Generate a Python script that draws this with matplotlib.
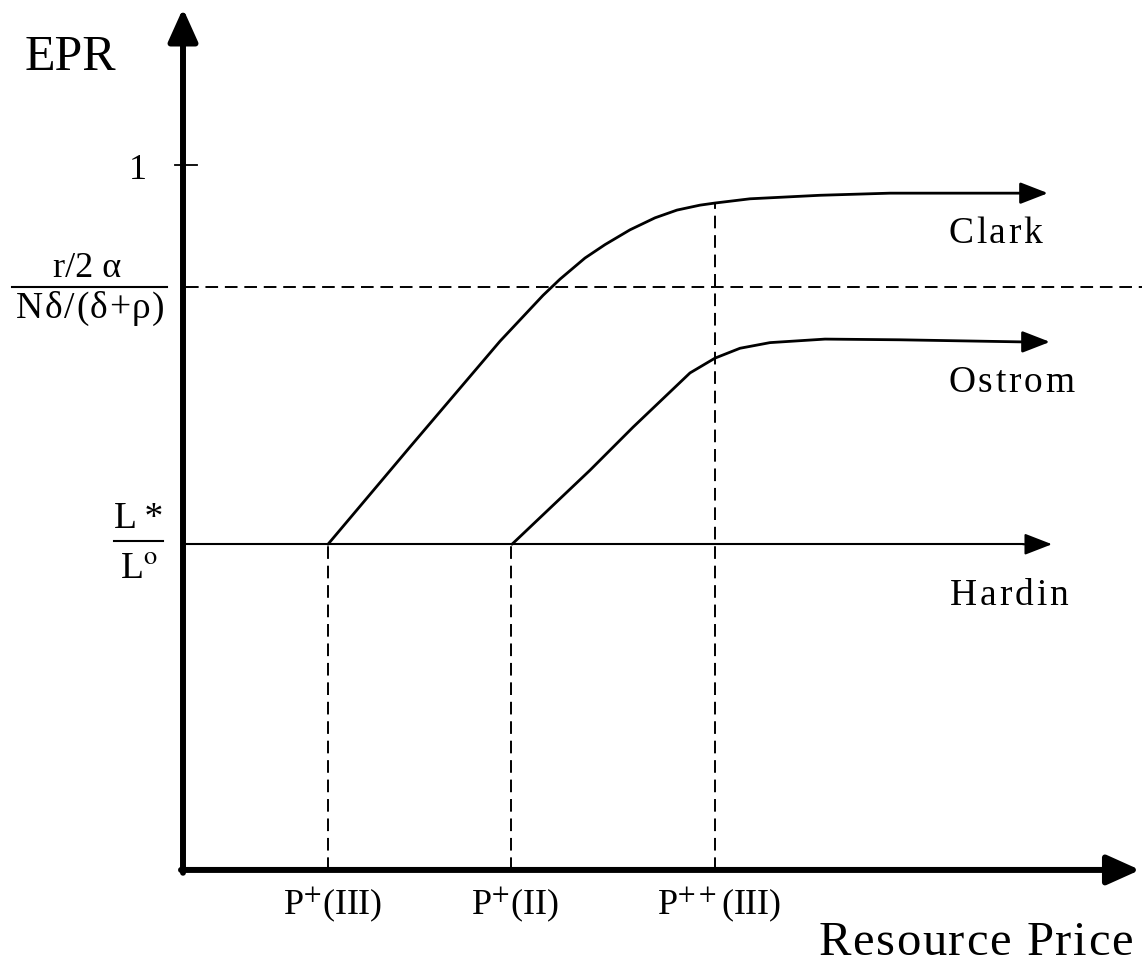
import matplotlib
matplotlib.use("Agg")
import matplotlib.pyplot as plt
from matplotlib.textpath import TextToPath
from matplotlib.font_manager import FontProperties

plt.rcParams["font.family"] = ["Liberation Serif", "DejaVu Serif"]
plt.rcParams["mathtext.fontset"] = "stix"

# price levels (x) and EPR levels (y)
p_III = 1.45
p_II = 3.28
pp_III = 5.32
lstar = 0.462      # L*/L°
rlevel = 0.827     # r/2a / N d/(d+p)
one = 1.0

# Clark curve
clark_x = [1.45, 2.27, 3.17, 3.60, 3.77, 4.02, 4.22, 4.47, 4.72, 4.94, 5.17, 5.32, 5.67, 6.37, 7.07, 8.40]
clark_y = [0.462, 0.600, 0.750, 0.815, 0.838, 0.868, 0.887, 0.908, 0.925, 0.936, 0.943, 0.946, 0.952, 0.957, 0.960, 0.960]
clark_tip = 8.65

# Ostrom curve
ostrom_x = [3.29, 4.07, 4.50, 5.07, 5.32, 5.57, 5.87, 6.42, 7.17, 8.40]
ostrom_y = [0.462, 0.567, 0.628, 0.705, 0.726, 0.740, 0.748, 0.753, 0.752, 0.749]
ostrom_tip = 8.67

# Hardin line
hardin_x = [0.0, 8.40]
hardin_y = [lstar, lstar]
hardin_tip = 8.69

x_labels = ["P$^{+}$(III)", "P$^{+}$(II)", "P$^{++}$(III)"]
x_pos = [p_III, p_II, pp_III]

fig = plt.figure(figsize=(11.42, 9.63), dpi=100)
ax = fig.add_axes([0, 0, 1, 1])
ax.set_xlim(-1.83, 9.59)
ax.set_ylim(-0.132, 1.234)
ax.axis("off")

ttp = TextToPath()


def tracked(x, y, s, size, track, ha="left"):
    # draw text letter by letter with extra spacing (points)
    fp = FontProperties(family="Liberation Serif", size=size)
    w = lambda t: ttp.get_text_width_height_descent(t, fp, ismath=False)[0] if t.strip() else 0.0
    lefts = [w(s[:i + 1]) - w(s[i]) + track * i for i in range(len(s))]
    total = w(s) + track * (len(s) - 1)
    shift = {"left": 0.0, "center": -total / 2, "right": -total}[ha]
    for ch, lx in zip(s, lefts):
        if ch.strip():
            ax.annotate(ch, xy=(x, y), xytext=(lx + shift, 0), textcoords="offset points",
                        fontsize=size, ha="left", va="baseline", family="Liberation Serif")


dash = (0, (6.5, 3.5))

# axes with arrows
ax.annotate("", xy=(0, 1.222), xytext=(0, -0.004),
            arrowprops=dict(arrowstyle="-|>,head_length=1.0,head_width=0.45",
                            lw=4.3, color="k", shrinkA=0, shrinkB=0, mutation_scale=20))
ax.annotate("", xy=(9.57, 0), xytext=(-0.02, 0),
            arrowprops=dict(arrowstyle="-|>,head_length=1.0,head_width=0.45",
                            lw=4.3, color="k", shrinkA=0, shrinkB=0, mutation_scale=20))

# tick at 1
ax.plot([-0.08, 0.14], [one, one], color="k", lw=1.3)

# dashed guide lines
ax.plot([0.03, 9.59], [rlevel, rlevel], color="k", lw=1.4, linestyle=dash)
for xp, yt in zip(x_pos, [lstar, lstar, clark_y[11]]):
    ax.plot([xp, xp], [0.0, yt], color="k", lw=1.4, linestyle=dash)


# curves
def arrow_curve(xs, ys, tip, lw):
    ax.plot(xs, ys, color="k", lw=lw, solid_joinstyle="round", solid_capstyle="round")
    ax.annotate("", xy=(tip, ys[-1]), xytext=(xs[-1], ys[-1]),
                arrowprops=dict(arrowstyle="-|>,head_length=0.85,head_width=0.33",
                                lw=lw, color="k", shrinkA=0, shrinkB=0, mutation_scale=20))


arrow_curve(clark_x, clark_y, clark_tip, 2.0)
arrow_curve(ostrom_x, ostrom_y, ostrom_tip, 2.0)
arrow_curve(hardin_x, hardin_y, hardin_tip, 1.5)

# curve names
tracked(7.65, 0.889, "Clark", 27, 2.0)
tracked(7.65, 0.678, "Ostrom", 27, 2.0)
tracked(7.67, 0.376, "Hardin", 27, 2.0)

# y labels
ax.text(-1.58, 1.135, "EPR", fontsize=36, ha="left", va="baseline")
ax.annotate("1", xy=(0, one), xytext=(-26, -4), textcoords="offset points",
            fontsize=26, ha="right", va="center")

# r/2a fraction
ax.plot([-1.71, -0.16], [rlevel, rlevel], color="k", lw=1.5)
ax.annotate("r/2 α", xy=(-0.96, rlevel), xytext=(0, 7), textcoords="offset points",
            fontsize=26, ha="center", va="baseline")
tracked(-0.925, rlevel - 0.044, "Nδ/(δ+ρ)", 27, 1.1, ha="center")

# L*/L° fraction
ax.plot([-0.69, -0.20], [lstar + 0.005, lstar + 0.005], color="k", lw=1.5)
ax.annotate("L\u2009*", xy=(-0.445, lstar), xytext=(0, 12), textcoords="offset points",
            fontsize=27, ha="center", va="baseline")
ax.annotate("L$^{\\mathrm{o}}$", xy=(-0.445, lstar), xytext=(0, -25), textcoords="offset points",
            fontsize=27, ha="center", va="baseline")

# x labels
for xp, lab in zip(x_pos, x_labels):
    ax.annotate(lab, xy=(xp, 0), xytext=(3, -32), textcoords="offset points",
                fontsize=26, ha="center", va="baseline")

tracked(9.50, -0.1206, "Resource Price", 35, 1.2, ha="right")

plt.savefig("out.png", dpi=100)
